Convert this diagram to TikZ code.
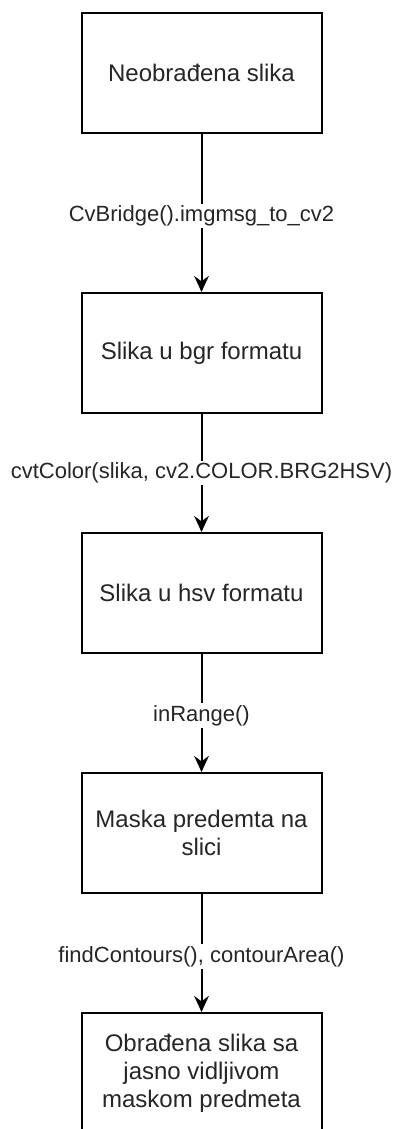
\documentclass[tikz,border=0pt]{standalone}
\usepackage{fontspec}
\setmainfont{Liberation Sans}
\usetikzlibrary{arrows.meta}
\tikzset{
  stepbox/.style={draw=black, line width=1.5pt, fill=white, minimum width=180pt, minimum height=90pt,
    align=center, inner sep=0pt, font=\fontsize{18pt}{21pt}\selectfont, text=black!85},
  flow/.style={draw=black, line width=1.5pt, -{Stealth[length=12pt, width=11pt, inset=4pt]}},
  lbl/.style={fill=white, inner sep=1.5pt, font=\fontsize{16.5pt}{19pt}\selectfont, text=black!85}
}
\begin{document}
\begin{tikzpicture}[x=0.75pt,y=-0.75pt]
\clip (0,0) rectangle (396,1129);
\fill[white] (0,0) rectangle (396,1129);
\node[stepbox] (b1) at (201.5,73) {Neobrađena slika};
\node[stepbox] (b2) at (201.5,353) {Slika u bgr formatu};
\node[stepbox] (b3) at (201.5,593) {Slika u hsv formatu};
\node[stepbox] (b4) at (201.5,833) {Maska predemta na\\slici};
\node[stepbox] (b5) at (201.5,1073) {Obrađena slika sa\\jasno vidljivom\\maskom predmeta};
\draw[flow] (b1) -- node[lbl, pos=0.52] {CvBridge().imgmsg\_to\_cv2} (b2);
\draw[flow] (b2) -- node[lbl] {cvtColor(slika, cv2.COLOR.BRG2HSV)} (b3);
\draw[flow] (b3) -- node[lbl, pos=0.52] {inRange()} (b4);
\draw[flow] (b4) -- node[lbl, pos=0.53] {findContours(), contourArea()} (b5);
\end{tikzpicture}
\end{document}
